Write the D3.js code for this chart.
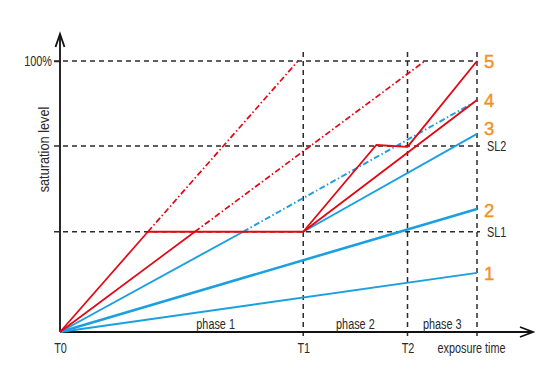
<!DOCTYPE html>
<html>
<head>
<meta charset="utf-8">
<script src="https://cdn.jsdelivr.net/npm/d3@7"></script>
<style>
  html, body { margin: 0; padding: 0; background: #fff; }
  svg text { font-family: "Liberation Sans", Arial, sans-serif; }
</style>
</head>
<body>
<svg id="chart" width="550" height="375"></svg>
<script>
// ---- data (time units on x, saturation % on y) ----
const phaseTimes = [0, 7, 10, 12];               // T0, T1, T2, end of exposure
const xTickLabels = ["T0", "T1", "T2", "exposure time"];
const phaseLabels = ["phase 1", "phase 2", "phase 3"];
const levels = [37, 68.6, 100];                  // SL1, SL2, 100%
const levelLabels = ["SL1", "SL2"];
const yTickValues = [100];
const yTickLabels = ["100%"];

// blue solid lines
const blue1 = [[0, 0], [12, 21.8]];
const blue2 = [[0, 0], [12, 45.4]];
const blue3 = [[7, 37], [12, 73.1]];
const blueC = [[0, 0], [5.27, 37]];
const blueCDash = [[5.27, 37], [11.9, 84.6]];
// red lines
const redA = [[0, 0], [2.53, 37]];
const redADash = [[2.53, 37], [6.85, 100]];
const redB = [[0, 0], [3.88, 37]];
const redBDash = [[3.88, 37], [10.5, 100]];
const redFlat = [[2.53, 37], [7, 37]];
const red4 = [[7, 37], [12, 85.6]];
const red5 = [[7, 37], [9.1, 69.0], [10, 68.3], [12, 100]];

const curveLabels = ["1", "2", "3", "4", "5"];
const curveEnds = [21.8, 45.4, 73.1, 85.6, 100];

// ---- drawing ----
const svg = d3.select("#chart");
const x = d3.scaleLinear().domain([0, 12]).range([60, 477]);
const y = d3.scaleLinear().domain([0, 100]).range([332, 61]);

const RED = "#e30613", BLUE = "#1aa0e0", ORANGE = "#f5901e", GRID = "#2b2b2b", TXT = "#2a2a2a";
const SQ = 0.75;   // horizontal squeeze to mimic a condensed face
const FS = 14.5;
const line = d3.line().x(d => x(d[0])).y(d => y(d[1]));

// grid dashed lines
const grid = svg.append("g");
levels.forEach(lv => {
  grid.append("line")
    .attr("x1", x(0) - 6).attr("x2", x(12) + (lv === 100 ? 0 : 3))
    .attr("y1", y(lv)).attr("y2", y(lv))
    .attr("stroke", GRID).attr("stroke-width", 1.5).attr("stroke-dasharray", "5,4");
});
phaseTimes.slice(1).forEach(t => {
  grid.append("line")
    .attr("x1", x(t)).attr("x2", x(t))
    .attr("y1", y(100) - 9).attr("y2", y(0) + 5)
    .attr("stroke", GRID).attr("stroke-width", 1.5).attr("stroke-dasharray", "5,4");
});

// axes
const xAxis = d3.axisBottom(x).tickValues(phaseTimes).tickSize(0).tickPadding(11)
  .tickFormat((d, i) => xTickLabels[i]);
const gx = svg.append("g").attr("transform", `translate(0,${y(0)})`).call(xAxis);
gx.select(".domain").remove();
gx.selectAll("text").attr("font-size", FS).attr("fill", TXT)
  .attr("font-family", '"Liberation Sans", Arial, sans-serif')
  .attr("transform", `scale(${SQ},1)`);
gx.selectAll(".tick").filter(d => d === 12).select("text").attr("x", -6 / SQ);

const yAxis = d3.axisLeft(y).tickValues(yTickValues).tickSize(6).tickPadding(3)
  .tickFormat((d, i) => yTickLabels[i]);
const gy = svg.append("g").attr("transform", `translate(${x(0)},0)`).call(yAxis);
gy.select(".domain").remove();
gy.selectAll("line").attr("stroke", GRID).attr("stroke-width", 1.5);
gy.selectAll("text").attr("font-size", FS).attr("fill", TXT)
  .attr("font-family", '"Liberation Sans", Arial, sans-serif')
  .attr("transform", `scale(${SQ},1)`).attr("x", -8 / SQ);

// axis lines with arrows
const ax = svg.append("g").attr("stroke", "#111").attr("stroke-width", 1.8).attr("fill", "none");
ax.append("line").attr("x1", x(0)).attr("x2", x(0)).attr("y1", y(0)).attr("y2", y(100) - 26);
ax.append("path").attr("d", `M${x(0) - 4.5},${y(100) - 14} L${x(0)},${y(100) - 27} L${x(0) + 4.5},${y(100) - 14}`);
ax.append("line").attr("x1", x(0)).attr("x2", x(12) + 56).attr("y1", y(0)).attr("y2", y(0));
ax.append("path").attr("d", `M${x(12) + 43},${y(0) - 5} L${x(12) + 56},${y(0)} L${x(12) + 43},${y(0) + 5}`);

// data lines
const lines = svg.append("g").attr("fill", "none").attr("stroke-linejoin", "round");
function draw(data, color, width, dash) {
  const p = lines.append("path").attr("d", line(data))
    .attr("stroke", color).attr("stroke-width", width);
  if (dash) p.attr("stroke-dasharray", dash);
}
const DASHDOT = "6,2.5,1.5,2.5";
draw(blue1, BLUE, 1.8);
draw(blue2, BLUE, 2.6);
draw(blue3, BLUE, 1.9);
draw(blueC, BLUE, 1.9);
draw(blueCDash, BLUE, 1.9, DASHDOT);
draw(redA, RED, 1.7);
draw(redADash, RED, 1.7, DASHDOT);
draw(redB, RED, 1.7);
draw(redBDash, RED, 1.7, DASHDOT);
draw(red4, RED, 1.8);
draw(red5, RED, 1.8);
draw(redFlat, RED, 2);

// curve labels
const labelShift = [0, 1, -6, 0, 0];
svg.append("g").selectAll("text").data(curveLabels).join("text")
  .attr("x", x(12) + 7)
  .attr("y", (d, i) => y(curveEnds[i]) + labelShift[i])
  .attr("dy", "0.36em")
  .attr("font-size", 18.5)
  .attr("fill", ORANGE).attr("stroke", ORANGE).attr("stroke-width", 0.4)
  .text(d => d);

// helper for squeezed text
function squeezed(g, tx, ty, str, anchor, size) {
  g.append("g").attr("transform", `translate(${tx},${ty})`)
    .append("text")
    .attr("transform", `scale(${SQ},1)`)
    .attr("text-anchor", anchor)
    .attr("font-size", size).attr("fill", TXT)
    .text(str);
}

// level labels
const lab = svg.append("g");
levelLabels.forEach((s, i) => {
  const g = lab.append("g").attr("transform", `translate(${x(12) + 10},${y(levels[i])})`);
  g.append("text").attr("transform", `scale(${SQ},1)`).attr("dy", "0.36em")
    .attr("font-size", FS).attr("fill", TXT).text(s);
});

// phase labels
phaseLabels.forEach((s, i) => {
  const cx = (x(phaseTimes[i]) + x(phaseTimes[i + 1])) / 2 + (i === 0 ? 34 : 0);
  squeezed(lab, cx, y(0) - 3, s, "middle", FS);
});

// y axis title
lab.append("g")
  .attr("transform", `translate(${x(0) - 11},${(y(0) + y(100)) / 2 - 47}) rotate(-90)`)
  .append("text")
  .attr("transform", "scale(0.85,1)")
  .attr("text-anchor", "middle")
  .attr("font-size", 15).attr("fill", TXT)
  .text("saturation level");
</script>
</body>
</html>
